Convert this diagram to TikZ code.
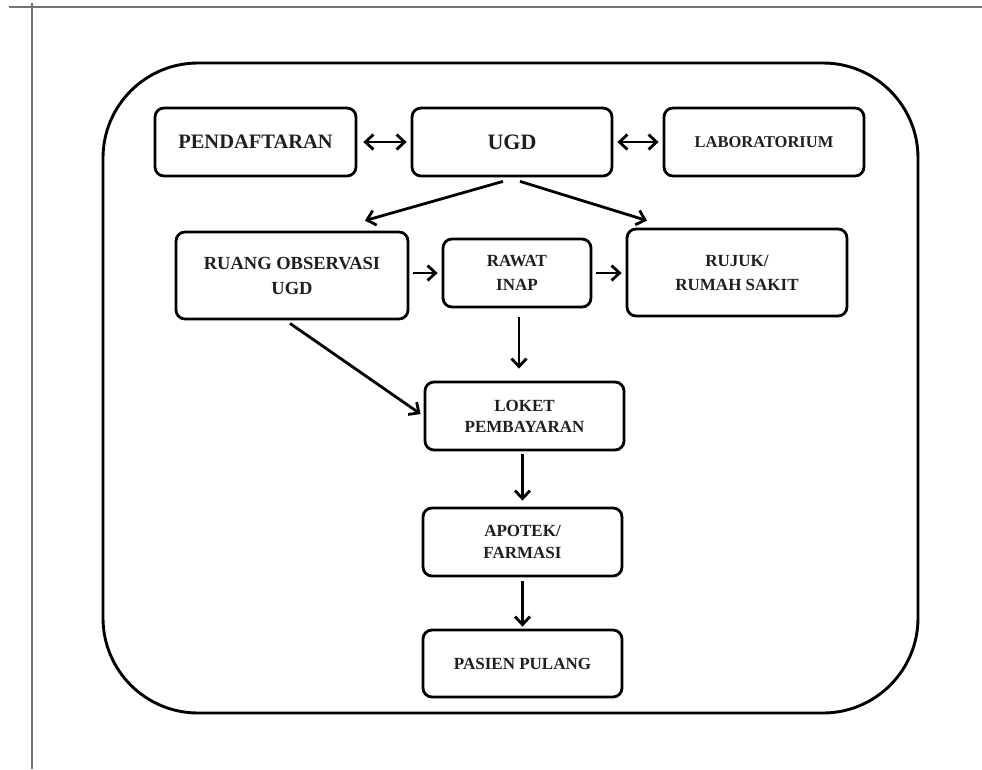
\documentclass[tikz,border=0pt]{standalone}
\usepackage{fontspec}
\setmainfont{Liberation Serif}
\usetikzlibrary{arrows.meta,calc}
\begin{document}
\begin{tikzpicture}[x=1pt,y=-1pt,line width=2.8pt,
  box/.style={draw, rounded corners=9pt, align=center, inner sep=0pt,
    font=\bfseries\fontsize{17}{24}\selectfont, text=black!88},
  big/.style={font=\bfseries\fontsize{20.5}{24}\selectfont},
  arr/.style={-{Straight Barb[length=8pt,width=15pt]}},
  darr/.style={{Straight Barb[length=8pt,width=15pt]}-{Straight Barb[length=8pt,width=15pt]}},
  pageline/.style={draw=black!55, line width=1.8pt}]
\useasboundingbox (0,0) rectangle (982,769);
\fill[white] (0,0) rectangle (982,769);
% page lines
\coordinate (h1) at (9,7);
\coordinate (h2) at (982,7);
\coordinate (v1) at (32,3);
\coordinate (v2) at (32,769);
\draw[pageline] (h1) -- (h2);
\draw[pageline] (v1) -- (v2);
% outer frame
\draw[line width=2.9pt, rounded corners=95pt] (103,63) rectangle (918,713);
% boxes
\node[box, big, minimum width=201pt, minimum height=68pt] (pend) at (255.5,142) {PENDAFTARAN};
\node[box, minimum width=200pt, minimum height=68pt, font=\bfseries\fontsize{22}{24}\selectfont] (ugd) at (512,142) {UGD};
\node[box, minimum width=200pt, minimum height=68pt, font=\bfseries\fontsize{16.5}{24}\selectfont] (lab) at (764,142) {LABORATORIUM};
\node[box, minimum width=232pt, minimum height=87pt, font=\bfseries\fontsize{18.5}{25}\selectfont] (ruang) at (292,275.5) {RUANG OBSERVASI\\UGD};
\node[box, minimum width=148pt, minimum height=68pt] (rawat) at (517,273) {RAWAT\\INAP};
\node[box, minimum width=220pt, minimum height=87pt] (rujuk) at (737,272.5) {RUJUK/\\RUMAH SAKIT};
\node[box, minimum width=199pt, minimum height=68pt, font=\bfseries\fontsize{17}{21}\selectfont] (loket) at (524.5,416) {LOKET\\PEMBAYARAN};
\node[box, minimum width=199pt, minimum height=68pt, font=\bfseries\fontsize{17}{22}\selectfont] (apotek) at (522.5,542) {APOTEK/\\FARMASI};
\node[box, minimum width=199pt, minimum height=67pt] (pasien) at (522.5,663.5) {PASIEN PULANG};
% connectors
\draw[darr, shorten <=6pt, shorten >=4pt] (pend) -- (ugd);
\draw[darr, shorten <=4pt, shorten >=4pt] (ugd) -- (lab);
\draw[arr] ($(ugd.south)+(-9,4)$) -- ($(ruang.north)+(73,-10)$);
\draw[arr] ($(ugd.south)+(8,4)$) -- ($(rujuk.north)+(-90,-7)$);
\draw[arr, shorten <=4pt, shorten >=4pt] (ruang.east |- rawat.west) -- (rawat.west);
\draw[arr, shorten <=4pt, shorten >=4pt] (rawat.east) -- (rujuk.west |- rawat.east);
\coordinate (r1) at ($(rawat.south)+(2,0)$);
\draw[arr, shorten <=9pt, shorten >=12pt] (r1) -- (r1 |- loket.north);
\draw[arr] ($(ruang.south)+(-2,3)$) -- ($(loket.west)+(-3,-2)$);
\draw[arr, shorten <=3pt, shorten >=6pt] (apotek.north |- loket.south) -- (apotek.north);
\draw[arr, shorten <=4pt, shorten >=2pt] (apotek.south) -- (pasien.north);
\end{tikzpicture}
\end{document}
